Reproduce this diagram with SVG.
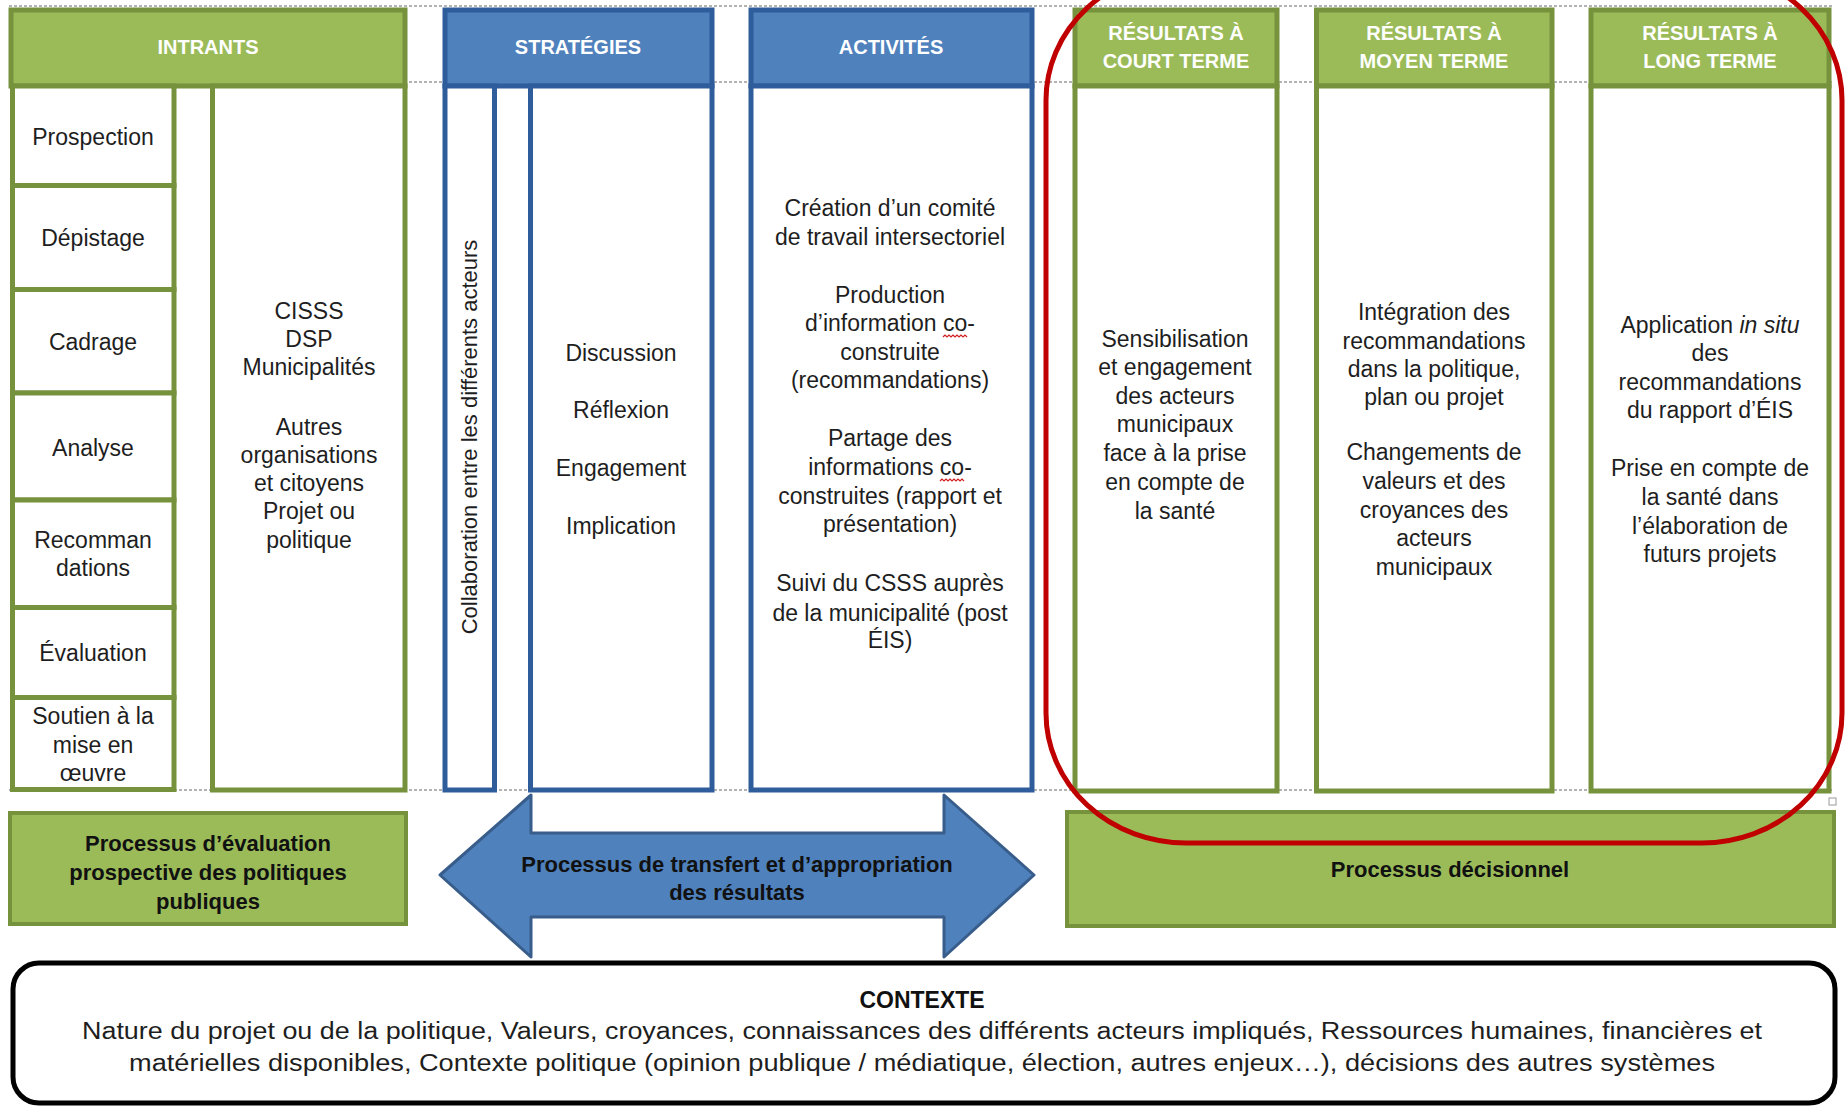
<svg xmlns="http://www.w3.org/2000/svg" width="1845" height="1106" viewBox="0 0 1845 1106">
<style>
.hg{fill:#9BBB59;stroke:#76923C;stroke-width:5}
.bg{fill:#fff;stroke:#76923C;stroke-width:5}
.hb{fill:#4F81BD;stroke:#2F5C9A;stroke-width:5}
.bb{fill:#fff;stroke:#2F5C9A;stroke-width:5}
.pg{fill:#9BBB59;stroke:#76923C;stroke-width:4}
.grid{stroke:#9a9a9a;stroke-width:1.3;stroke-dasharray:3 2;fill:none}
text{font-family:"Liberation Sans",Arial,sans-serif;text-anchor:middle}
.t{font-size:23px;fill:#1e1e1e}
.h{font-size:20px;font-weight:bold;fill:#fff}
.b{font-size:22px;font-weight:bold;fill:#111}
.sq{fill:none;stroke:#d02020;stroke-width:1.2}
</style>

<g id="gridlines">
<line class="grid" x1="9" y1="6" x2="1833" y2="6"/>
<line class="grid" x1="9" y1="82" x2="1833" y2="82"/>
<line class="grid" x1="9" y1="790" x2="1833" y2="790"/>
<rect x="1829" y="798" width="7" height="7" fill="none" stroke="#9a9a9a" stroke-width="1"/>
</g>

<g id="intrants">
<rect class="hg" x="11" y="10" width="394" height="76"/>
<text class="h" x="208" y="54">INTRANTS</text>
<rect class="bg" x="212.5" y="86" width="192.5" height="704"/>
<text class="t" x="309" y="319">CISSS</text>
<text class="t" x="309" y="347">DSP</text>
<text class="t" x="309" y="375">Municipalités</text>
<text class="t" x="309" y="435">Autres</text>
<text class="t" x="309" y="463">organisations</text>
<text class="t" x="309" y="491">et citoyens</text>
<text class="t" x="309" y="519">Projet ou</text>
<text class="t" x="309" y="548">politique</text>
</g>

<g id="prospection"><rect class="bg" x="12.5" y="86" width="161.5" height="99.5"/><text class="t" x="93" y="145">Prospection</text></g>
<g id="depistage"><rect class="bg" x="12.5" y="185.5" width="161.5" height="104"/><text class="t" x="93" y="246">Dépistage</text></g>
<g id="cadrage"><rect class="bg" x="12.5" y="289.5" width="161.5" height="103.5"/><text class="t" x="93" y="350">Cadrage</text></g>
<g id="analyse"><rect class="bg" x="12.5" y="393" width="161.5" height="107"/><text class="t" x="93" y="456">Analyse</text></g>
<g id="recommandations"><rect class="bg" x="12.5" y="500" width="161.5" height="107.5"/><text class="t" x="93" y="548">Recomman</text><text class="t" x="93" y="576">dations</text></g>
<g id="evaluation"><rect class="bg" x="12.5" y="607.5" width="161.5" height="90"/><text class="t" x="93" y="661">Évaluation</text></g>
<g id="soutien"><rect class="bg" x="12.5" y="697.5" width="161.5" height="92"/><text class="t" x="93" y="724">Soutien à la</text><text class="t" x="93" y="753">mise en</text><text class="t" x="93" y="781">œuvre</text></g>

<g id="strategies">
<rect class="hb" x="445" y="10" width="267" height="76"/>
<text class="h" x="578" y="54">STRATÉGIES</text>
<rect class="bb" x="445" y="86" width="49.5" height="704"/>
<text class="t" style="font-size:22px" transform="translate(469,437) rotate(-90)" x="0" y="8">Collaboration entre les différents acteurs</text>
<rect class="bb" x="530.5" y="86" width="181.5" height="704"/>
<text class="t" x="621" y="361">Discussion</text>
<text class="t" x="621" y="418">Réflexion</text>
<text class="t" x="621" y="476">Engagement</text>
<text class="t" x="621" y="534">Implication</text>
</g>

<g id="activites">
<rect class="hb" x="751" y="10" width="281" height="76"/>
<text class="h" x="891" y="54">ACTIVITÉS</text>
<rect class="bb" x="751" y="86" width="281" height="704"/>
<text class="t" x="890" y="216">Création d’un comité</text>
<text class="t" x="890" y="245">de travail intersectoriel</text>
<text class="t" x="890" y="303">Production</text>
<text class="t" x="890" y="331">d’information co-</text>
<text class="t" x="890" y="360">construite</text>
<text class="t" x="890" y="388">(recommandations)</text>
<text class="t" x="890" y="446">Partage des</text>
<text class="t" x="890" y="475">informations co-</text>
<text class="t" x="890" y="504">construites (rapport et</text>
<text class="t" x="890" y="532">présentation)</text>
<text class="t" x="890" y="591">Suivi du CSSS auprès</text>
<text class="t" x="890" y="621">de la municipalité (post</text>
<text class="t" x="890" y="648">ÉIS)</text>
<path class="sq" d="M943 337 l2 -2 l2 2 l2 -2 l2 2 l2 -2 l2 2 l2 -2 l2 2 l2 -2 l2 2 l2 -2 l2 2"/>
<path class="sq" d="M940 481 l2 -2 l2 2 l2 -2 l2 2 l2 -2 l2 2 l2 -2 l2 2 l2 -2 l2 2 l2 -2 l2 2"/>
</g>

<g id="court-terme">
<rect class="hg" x="1075" y="10" width="202" height="76"/>
<text class="h" x="1176" y="40">RÉSULTATS À</text>
<text class="h" x="1176" y="68">COURT TERME</text>
<rect class="bg" x="1075" y="86" width="202" height="705"/>
<text class="t" x="1175" y="347">Sensibilisation</text>
<text class="t" x="1175" y="375">et engagement</text>
<text class="t" x="1175" y="404">des acteurs</text>
<text class="t" x="1175" y="432">municipaux</text>
<text class="t" x="1175" y="461">face à la prise</text>
<text class="t" x="1175" y="490">en compte de</text>
<text class="t" x="1175" y="519">la santé</text>
</g>

<g id="moyen-terme">
<rect class="hg" x="1316.5" y="10" width="235.5" height="76"/>
<text class="h" x="1434" y="40">RÉSULTATS À</text>
<text class="h" x="1434" y="68">MOYEN TERME</text>
<rect class="bg" x="1316.5" y="86" width="235.5" height="705"/>
<text class="t" x="1434" y="320">Intégration des</text>
<text class="t" x="1434" y="349">recommandations</text>
<text class="t" x="1434" y="377">dans la politique,</text>
<text class="t" x="1434" y="405">plan ou projet</text>
<text class="t" x="1434" y="460">Changements de</text>
<text class="t" x="1434" y="489">valeurs et des</text>
<text class="t" x="1434" y="518">croyances des</text>
<text class="t" x="1434" y="546">acteurs</text>
<text class="t" x="1434" y="575">municipaux</text>
</g>

<g id="long-terme">
<rect class="hg" x="1591" y="10" width="238" height="76"/>
<text class="h" x="1710" y="40">RÉSULTATS À</text>
<text class="h" x="1710" y="68">LONG TERME</text>
<rect class="bg" x="1591" y="86" width="238" height="705"/>
<text class="t" x="1710" y="333">Application <tspan font-style="italic">in situ</tspan></text>
<text class="t" x="1710" y="361">des</text>
<text class="t" x="1710" y="390">recommandations</text>
<text class="t" x="1710" y="418">du rapport d’ÉIS</text>
<text class="t" x="1710" y="476">Prise en compte de</text>
<text class="t" x="1710" y="505">la santé dans</text>
<text class="t" x="1710" y="534">l’élaboration de</text>
<text class="t" x="1710" y="562">futurs projets</text>
</g>

<g id="processus-evaluation">
<rect class="pg" x="10" y="813" width="396" height="111"/>
<text class="b" x="208" y="851">Processus d’évaluation</text>
<text class="b" x="208" y="880">prospective des politiques</text>
<text class="b" x="208" y="909">publiques</text>
</g>

<g id="processus-transfert">
<polygon points="440,875 531,795 531,833 944,833 944,795 1034,875 944,957 944,917 531,917 531,957" fill="#4F81BD" stroke="#385D8A" stroke-width="3" stroke-linejoin="round"/>
<text class="b" x="737" y="872" fill="#101830">Processus de transfert et d’appropriation</text>
<text class="b" x="737" y="900" fill="#101830">des résultats</text>
</g>

<g id="processus-decisionnel">
<rect class="pg" x="1067" y="812" width="767" height="114"/>
<text class="b" x="1450" y="877">Processus décisionnel</text>
</g>

<g id="contexte">
<rect x="13" y="963" width="1822" height="140" rx="26" ry="26" fill="#fff" stroke="#000" stroke-width="5"/>
<text x="922" y="1008" style="font-size:23px;font-weight:bold;fill:#111">CONTEXTE</text>
<text class="t" x="922" y="1039" textLength="1680" lengthAdjust="spacingAndGlyphs">Nature du projet ou de la politique, Valeurs, croyances, connaissances des différents acteurs impliqués, Ressources humaines, financières et</text>
<text class="t" x="922" y="1071" textLength="1586" lengthAdjust="spacingAndGlyphs">matérielles disponibles, Contexte politique (opinion publique / médiatique, élection, autres enjeux…), décisions des autres systèmes</text>
</g>

<g id="highlight">
<rect x="1046" y="-30" width="796" height="873" rx="140" ry="130" fill="none" stroke="#C00000" stroke-width="5"/>
</g>
</svg>
